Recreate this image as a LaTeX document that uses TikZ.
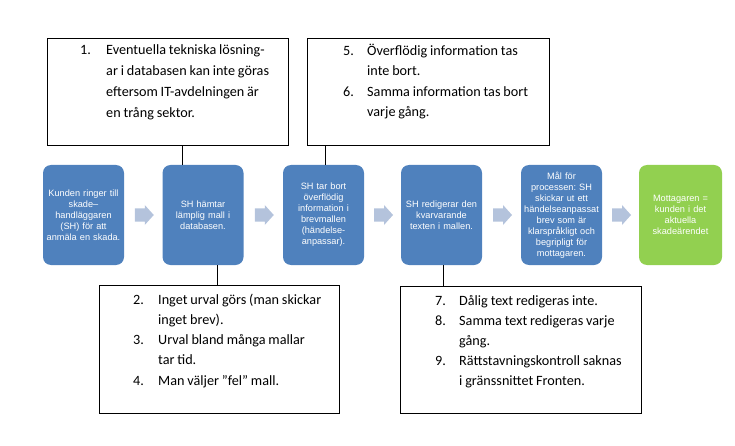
\documentclass[tikz,border=0pt]{standalone}
\usepackage{fontspec}
\setmainfont{Carlito}
\newfontfamily\boxfont{Liberation Sans}
\usetikzlibrary{calc}
\definecolor{flowblue}{HTML}{4F81BD}
\definecolor{flowgreen}{HTML}{92D050}
\definecolor{arrowfill}{HTML}{B4C3DC}
\frenchspacing
\newcommand\tightspaces{\frenchspacing\spaceskip=0.2em plus 0.05em minus 0.03em\relax\xspaceskip=0.2em plus 0.05em minus 0.03em\relax}
\begin{document}
\begin{tikzpicture}[x=1pt,y=-1pt,
  flowbox/.style={rectangle, rounded corners=8pt, fill=flowblue, text=white,
    minimum width=81pt, minimum height=100pt, text width=80pt, align=center,
    inner sep=0pt, font=\boxfont\fontsize{9.2}{11}\selectfont\tightspaces},
  greenbox/.style={flowbox, fill=flowgreen, minimum width=83pt},
  callout/.style={draw=black, line width=0.9pt, fill=white, inner sep=0pt, anchor=north west},
  lineitem/.style={anchor=base west, inner sep=0pt,
    font=\fontsize{14.2}{20.3}\selectfont\tightspaces},
  conn/.style={draw=black, line width=0.9pt},
  flowarrow/.style={fill=arrowfill}
]
\useasboundingbox (0,0) rectangle (735,446);

% callout boxes
\node[callout, minimum width=241pt, minimum height=107pt] (c1) at (47,38) {};
\node[callout, minimum width=242pt, minimum height=107pt] (c2) at (307,38) {};
\node[callout, minimum width=240pt, minimum height=128pt] (c3) at (99,285) {};
\node[callout, minimum width=241pt, minimum height=127pt] (c4) at (400,286) {};

% flow boxes
\node[flowbox] (b1) at (83.5,215) {Kunden ringer till\\skade–\\handläggaren\\(SH) för att\\anmäla en skada.};
\node[flowbox] (b2) at (203,215) {SH hämtar\\lämplig mall i\\databasen.};
\node[flowbox] (b3) at (323.5,215) {SH tar bort\\överflödig\\information i\\brevmallen\\(händelse-\\anpassar).};
\node[flowbox] (b4) at (441.5,215) {SH redigerar den\\kvarvarande\\texten i mallen.};
\node[flowbox] (b5) at (561.5,215) {Mål för\\processen: SH\\skickar ut ett\\händelseanpassat\\brev som är\\klarspråkligt och\\begripligt för\\mottagaren.};
\node[greenbox] (b6) at (680.5,215) {Mottagaren =\\kunden i det\\aktuella\\skadeärendet};

% arrows between flow boxes
\foreach \a/\b in {b1/b2,b2/b3,b3/b4,b4/b5,b5/b6}{
  \coordinate (m) at ($(\a.east)!0.5!(\b.west)+(1,0)$);
  \fill[flowarrow] ($(m)+(-9.5,-6.5)$) -- ++(10,0) -- ++(0,-3.5) -- ++(9,10)
     -- ++(-9,10) -- ++(0,-3.5) -- ++(-10,0) -- cycle;
}

% connectors
\coordinate (k1) at ($(b2.north)+(-21,0)$);
\draw[conn] (k1) -- (k1 |- c1.south);
\coordinate (k2) at ($(b3.north)+(1.5,0)$);
\draw[conn] (k2) -- (k2 |- c2.south);
\coordinate (k3) at ($(b2.south)+(14,0)$);
\draw[conn] (k3) -- (k3 |- c3.north);
\coordinate (k4) at ($(b4.south)+(1.5,0)$);
\draw[conn] (k4) -- (k4 |- c4.north);

% callout 1 text
\node[lineitem] (n1) at (80,55) {1.};
\node[lineitem] (t1a) at (106,55) {Eventuella tekniska lösning-};
\node[lineitem] (t1b) at (106,76) {ar i databasen kan inte göras};
\node[lineitem] (t1c) at (106,97) {eftersom IT-avdelningen är};
\node[lineitem] (t1d) at (106,118) {en trång sektor.};

% callout 2 text
\node[lineitem] (n5) at (343,56) {5.};
\node[lineitem] (t2a) at (367,56) {Överflödig information tas};
\node[lineitem] (t2b) at (367,76) {inte bort.};
\node[lineitem] (n6) at (343,97) {6.};
\node[lineitem] (t2c) at (367,97) {Samma information tas bort};
\node[lineitem] (t2d) at (367,117) {varje gång.};

% callout 3 text
\node[lineitem] (n2) at (133,304) {2.};
\node[lineitem] (t3a) at (158,304) {Inget urval görs (man skickar};
\node[lineitem] (t3b) at (158,324) {inget brev).};
\node[lineitem] (n3) at (133,344) {3.};
\node[lineitem] (t3c) at (158,344) {Urval bland många mallar};
\node[lineitem] (t3d) at (158,364) {tar tid.};
\node[lineitem] (n4) at (133,385) {4.};
\node[lineitem] (t3e) at (158,385) {Man väljer ”fel” mall.};

% callout 4 text
\node[lineitem] (n7) at (435,305) {7.};
\node[lineitem] (t4a) at (459,305) {Dålig text redigeras inte.};
\node[lineitem] (n8) at (435,325) {8.};
\node[lineitem] (t4b) at (459,325) {Samma text redigeras varje};
\node[lineitem] (t4c) at (459,345) {gång.};
\node[lineitem] (n9) at (435,365) {9.};
\node[lineitem] (t4d) at (459,365) {Rättstavningskontroll saknas};
\node[lineitem] (t4e) at (459,385) {i gränssnittet Fronten.};
\end{tikzpicture}
\end{document}
